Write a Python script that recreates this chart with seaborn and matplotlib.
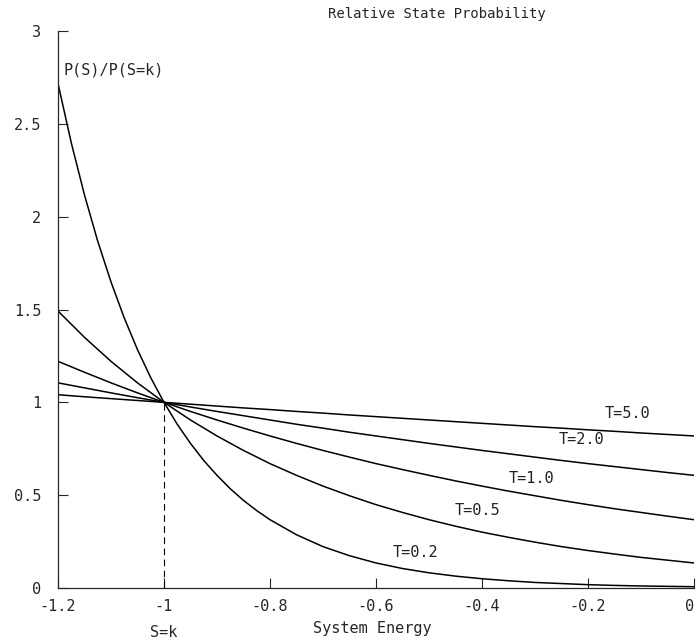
import numpy as np
import pandas as pd
import matplotlib
matplotlib.use("Agg")
import matplotlib.pyplot as plt
import seaborn as sns

# Energía del sistema (eje x) y cociente de probabilidades leído para cada T
energy = [-1.2, -1.15, -1.1, -1.05, -1.0, -0.95, -0.9, -0.85, -0.8, -0.75, -0.7,
          -0.65, -0.6, -0.55, -0.5, -0.45, -0.4, -0.35, -0.3, -0.25, -0.2,
          -0.15, -0.1, -0.05, 0.0]

# La curva T=0.2 es muy empinada al principio: se leyó con más puntos
energy_t02 = [-1.2, -1.175, -1.15, -1.125, -1.1, -1.075, -1.05, -1.025, -1.0,
              -0.975, -0.95, -0.925, -0.9, -0.875, -0.85, -0.825, -0.8, -0.75,
              -0.7, -0.65, -0.6, -0.55, -0.5, -0.45, -0.4, -0.35, -0.3, -0.25,
              -0.2, -0.15, -0.1, -0.05, 0.0]
ratio_t02 = [2.718, 2.399, 2.117, 1.868, 1.649, 1.455, 1.284, 1.133, 1.000,
             0.882, 0.779, 0.687, 0.607, 0.535, 0.472, 0.417, 0.368, 0.287,
             0.223, 0.174, 0.135, 0.105, 0.082, 0.064, 0.050, 0.039, 0.030,
             0.024, 0.018, 0.014, 0.011, 0.009, 0.007]
ratio_t05 = [1.492, 1.350, 1.221, 1.105, 1.000, 0.905, 0.819, 0.741, 0.670,
             0.607, 0.549, 0.497, 0.449, 0.407, 0.368, 0.333, 0.301, 0.273,
             0.247, 0.223, 0.202, 0.183, 0.165, 0.150, 0.135]
ratio_t10 = [1.221, 1.162, 1.105, 1.051, 1.000, 0.951, 0.905, 0.861, 0.819,
             0.779, 0.741, 0.705, 0.670, 0.638, 0.607, 0.577, 0.549, 0.522,
             0.497, 0.472, 0.449, 0.427, 0.407, 0.387, 0.368]
ratio_t20 = [1.105, 1.078, 1.051, 1.025, 1.000, 0.975, 0.951, 0.928, 0.905,
             0.882, 0.861, 0.839, 0.819, 0.799, 0.779, 0.760, 0.741, 0.723,
             0.705, 0.687, 0.670, 0.654, 0.638, 0.622, 0.607]
ratio_t50 = [1.041, 1.030, 1.020, 1.010, 1.000, 0.990, 0.980, 0.970, 0.961,
             0.951, 0.942, 0.932, 0.923, 0.914, 0.905, 0.896, 0.887, 0.878,
             0.869, 0.861, 0.852, 0.844, 0.835, 0.827, 0.819]

series_names = ["T=0.2", "T=0.5", "T=1.0", "T=2.0", "T=5.0"]
series_x = [energy_t02, energy, energy, energy, energy]
series_values = [ratio_t02, ratio_t05, ratio_t10, ratio_t20, ratio_t50]

# Posición de las etiquetas de cada curva (en datos)
label_x = [-0.525, -0.408, -0.306, -0.213, -0.126]
label_y = [0.19, 0.415, 0.59, 0.80, 0.94]

x_ticks = [-1.2, -1.0, -0.8, -0.6, -0.4, -0.2, 0.0]
x_tick_labels = ["-1.2", "-1", "-0.8", "-0.6", "-0.4", "-0.2", "0"]
y_ticks = [0, 0.5, 1, 1.5, 2, 2.5, 3]
y_tick_labels = ["0", "0.5", "1", "1.5", "2", "2.5", "3"]
k_energy = -1.0

# DataFrame en formato largo
df = pd.concat([pd.DataFrame({"energy": xs, "ratio": vals, "T": name})
                for name, xs, vals in zip(series_names, series_x, series_values)],
               ignore_index=True)

sns.set_style("ticks")
plt.rcParams["font.family"] = ["DejaVu Sans Mono"]

fig = plt.figure(figsize=(6.96, 6.42), dpi=100)
ax = fig.add_axes([0.0833, 0.0841, 0.9137, 0.8676])

sns.lineplot(data=df, x="energy", y="ratio", hue="T",
             palette=["black"] * 5, linewidth=1.1, legend=False, ax=ax)

ax.vlines(k_energy, 0, 1, colors="black", linestyles=(0, (6, 4)), linewidth=0.8)

for name, lx, ly in zip(series_names, label_x, label_y):
    ax.text(lx, ly, name, ha="center", va="center", fontsize=11, color="#222222")

ax.text(-1.19, 2.79, "P(S)/P(S=k)", ha="left", va="center", fontsize=11)
ax.text(k_energy, -0.237, "S=k", ha="center", va="center", fontsize=11,
        clip_on=False)

ax.set_xlim(-1.2, 0)
ax.set_ylim(0, 3)
ax.set_xticks(x_ticks)
ax.set_xticklabels(x_tick_labels)
ax.set_yticks(y_ticks)
ax.set_yticklabels(y_tick_labels)
ax.tick_params(direction="in", length=7, width=0.8, labelsize=11)
ax.tick_params(axis="y", pad=12)
ax.tick_params(axis="x", pad=8)
ax.get_xticklabels()[-1].set_ha("right")

ax.set_xlabel("System Energy", fontsize=11, va="center")
ax.xaxis.set_label_coords(0.495, -0.072)
ax.set_ylabel("")
ax.set_title("Relative State Probability", fontsize=10, x=0.596, y=1.023, pad=0)

sns.despine(ax=ax)
for side in ["left", "bottom"]:
    ax.spines[side].set_linewidth(0.9)

fig.savefig("out.png", dpi=100)
plt.close(fig)
